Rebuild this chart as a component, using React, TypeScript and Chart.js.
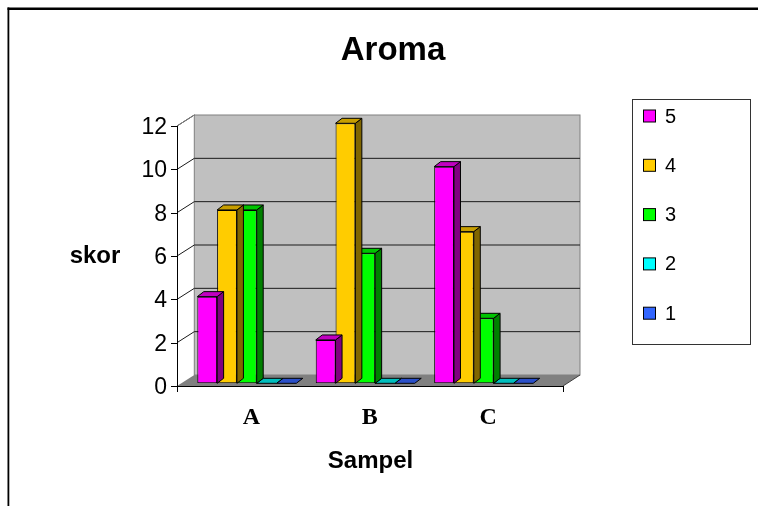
import React, { useEffect, useRef } from "react";
import { Chart, registerables } from "chart.js";

Chart.register(...registerables);

const categories = ["A", "B", "C"];
const seriesLabels = ["5", "4", "3", "2", "1"];
const series5 = [4, 2, 10];
const series4 = [8, 12, 7];
const series3 = [8, 6, 3];
const series2 = [0, 0, 0];
const series1 = [0, 0, 0];
const yTicks = [0, 2, 4, 6, 8, 10, 12];

const frontColors = ["#FF00FF", "#FFCC00", "#00FF00", "#00FFFF", "#3366FF"];
const topColors = ["#C000C0", "#C79E00", "#00C400", "#00BDBD", "#2A4FC8"];
const sideColors = ["#800080", "#806600", "#008000", "#008080", "#1A3380"];

const SANS = '"Liberation Sans", Arial, sans-serif';
const SERIF = '"Liberation Serif", "Times New Roman", serif';

// 3D geometry offsets (relative to the bar plane)
const BAR_DX = 6.5;
const BAR_DY = 5;
const FRONT_Y = 2.7;
const BACK_Y = -8.3;

const threeD = {
  id: "threeD",
  beforeDatasetsDraw(chart: any) {
    const { ctx, chartArea, scales } = chart;
    const ys = scales.y;
    const yb = (v: number) => ys.getPixelForValue(v);
    const yf = (v: number) => yb(v) + FRONT_Y;
    const yk = (v: number) => yb(v) + BACK_Y;
    const fl = chartArea.left - 10.6;
    const fr = chartArea.left + 375.4;
    const bl = chartArea.left + 6.7;
    const br = chartArea.left + 392.4;
    const top = yTicks[yTicks.length - 1];

    ctx.save();
    // outer frame
    ctx.fillStyle = "#000";
    ctx.fillRect(7.5, 7.5, chart.width, 2.5);
    ctx.fillRect(7.5, 7.5, 1.8, chart.height);

    // back wall
    ctx.fillStyle = "#C0C0C0";
    ctx.fillRect(bl, yk(top), br - bl, yk(0) - yk(top));
    ctx.strokeStyle = "#808080";
    ctx.lineWidth = 1;
    ctx.strokeRect(bl, yk(top), br - bl, yk(0) - yk(top));

    // gridlines
    ctx.strokeStyle = "#1a1a1a";
    ctx.lineWidth = 1;
    yTicks.forEach((v) => {
      if (v === 0) return;
      ctx.beginPath();
      ctx.moveTo(fl, yf(v));
      ctx.lineTo(bl, yk(v));
      if (v !== top) ctx.lineTo(br, yk(v));
      ctx.stroke();
    });
    // side wall top edge
    ctx.strokeStyle = "#808080";
    ctx.beginPath();
    ctx.moveTo(fl, yf(top));
    ctx.lineTo(bl, yk(top));
    ctx.stroke();

    // floor
    ctx.fillStyle = "#808080";
    ctx.beginPath();
    ctx.moveTo(fl, yf(0));
    ctx.lineTo(bl, yk(0));
    ctx.lineTo(br, yk(0));
    ctx.lineTo(fr, yf(0));
    ctx.closePath();
    ctx.fill();
    ctx.strokeStyle = "#404040";
    ctx.beginPath();
    ctx.moveTo(fr, yf(0));
    ctx.lineTo(br, yk(0));
    ctx.stroke();
    ctx.strokeStyle = "#000";
    ctx.beginPath();
    ctx.moveTo(fl - 6, yf(0) + 0.5);
    ctx.lineTo(fr, yf(0) + 0.5);
    ctx.moveTo(fr + 0.5, yf(0));
    ctx.lineTo(fr + 0.5, yf(0) + 6);
    ctx.moveTo(fl + 0.5, yf(0));
    ctx.lineTo(fl + 0.5, yf(0) + 6);
    ctx.stroke();

    // y axis line and ticks
    ctx.strokeStyle = "#000";
    ctx.beginPath();
    ctx.moveTo(fl + 0.5, yf(0));
    ctx.lineTo(fl + 0.5, yf(top));
    yTicks.forEach((v) => {
      ctx.moveTo(fl - 6, Math.round(yf(v)) + 0.5);
      ctx.lineTo(fl, Math.round(yf(v)) + 0.5);
    });
    ctx.stroke();

    // tick labels
    ctx.fillStyle = "#000";
    ctx.font = `23px ${SANS}`;
    ctx.textAlign = "right";
    ctx.textBaseline = "middle";
    yTicks.forEach((v) => {
      ctx.fillText(String(v), fl - 10, yf(v) + 1.5);
    });

    // category labels
    const xs = scales.x;
    ctx.font = `bold 24px ${SERIF}`;
    ctx.textAlign = "center";
    ctx.textBaseline = "alphabetic";
    categories.forEach((c, i) => {
      ctx.fillText(c, xs.getPixelForValue(i) + 4.5, yf(0) + 37.5);
    });

    // titles
    ctx.font = `bold 33px ${SANS}`;
    ctx.fillText("Aroma", 393, 60);
    ctx.font = `bold 24px ${SANS}`;
    ctx.fillText("skor", 95, 263);
    ctx.fillText("Sampel", 370.5, 468);
    ctx.restore();
  },
  beforeDatasetDraw(chart: any, args: any) {
    const { ctx } = chart;
    const i = args.index;
    const meta = chart.getDatasetMeta(i);
    ctx.save();
    ctx.strokeStyle = "#000";
    ctx.lineWidth = 1;
    ctx.lineJoin = "miter";
    meta.data.forEach((el: any) => {
      const { x, y, base, width } = el.getProps(["x", "y", "base", "width"], true);
      const l = x - width / 2;
      const r = x + width / 2;
      // side face
      if (base - y > 0.5) {
        ctx.fillStyle = sideColors[i];
        ctx.beginPath();
        ctx.moveTo(r, y);
        ctx.lineTo(r + BAR_DX, y - BAR_DY);
        ctx.lineTo(r + BAR_DX, base - BAR_DY);
        ctx.lineTo(r, base);
        ctx.closePath();
        ctx.fill();
        ctx.stroke();
      }
      // top face
      ctx.fillStyle = topColors[i];
      ctx.beginPath();
      ctx.moveTo(l, y);
      ctx.lineTo(r, y);
      ctx.lineTo(r + BAR_DX, y - BAR_DY);
      ctx.lineTo(l + BAR_DX, y - BAR_DY);
      ctx.closePath();
      ctx.fill();
      ctx.stroke();
    });
    ctx.restore();
  },
  afterDraw(chart: any) {
    const { ctx } = chart;
    ctx.save();
    // legend box
    ctx.strokeStyle = "#333";
    ctx.lineWidth = 1;
    ctx.strokeRect(632.5, 99.5, 118, 245);
    ctx.font = `20px ${SANS}`;
    ctx.textAlign = "left";
    ctx.textBaseline = "middle";
    chart.data.datasets.forEach((ds: any, i: number) => {
      const cy = 116 + i * 49.3;
      ctx.fillStyle = ds.backgroundColor;
      ctx.fillRect(643.5, cy - 6, 12, 12);
      ctx.strokeStyle = "#000";
      ctx.strokeRect(643.5, cy - 6, 12, 12);
      ctx.fillStyle = "#000";
      ctx.fillText(ds.label, 665, cy + 1);
    });
    ctx.restore();
  },
};

export default function App() {
  const ref = useRef<HTMLCanvasElement>(null);
  useEffect(() => {
    const values = [series5, series4, series3, series2, series1];
    const chart = new Chart(ref.current as HTMLCanvasElement, {
      type: "bar",
      data: {
        labels: categories,
        datasets: values.map((d, i) => ({
          label: seriesLabels[i],
          data: d,
          backgroundColor: frontColors[i],
          borderColor: "#000",
          borderWidth: 1,
          borderSkipped: false,
          categoryPercentage: 0.836,
          barPercentage: 1,
        })),
      },
      options: {
        responsive: false,
        animation: false,
        devicePixelRatio: 1,
        layout: { padding: { left: 187.6, right: 215.1, top: 123.3, bottom: 122.7 } },
        scales: {
          x: { display: false },
          y: { display: false, min: 0, max: 12 },
        },
        plugins: {
          legend: { display: false },
          title: { display: false },
          tooltip: { enabled: false },
        },
      },
      plugins: [threeD],
    });
    return () => chart.destroy();
  }, []);
  return (
    <div style={{ position: "fixed", left: 0, top: 0, width: 758, height: 506 }}>
      <canvas ref={ref} width={758} height={506} style={{ display: "block" }} />
    </div>
  );
}
